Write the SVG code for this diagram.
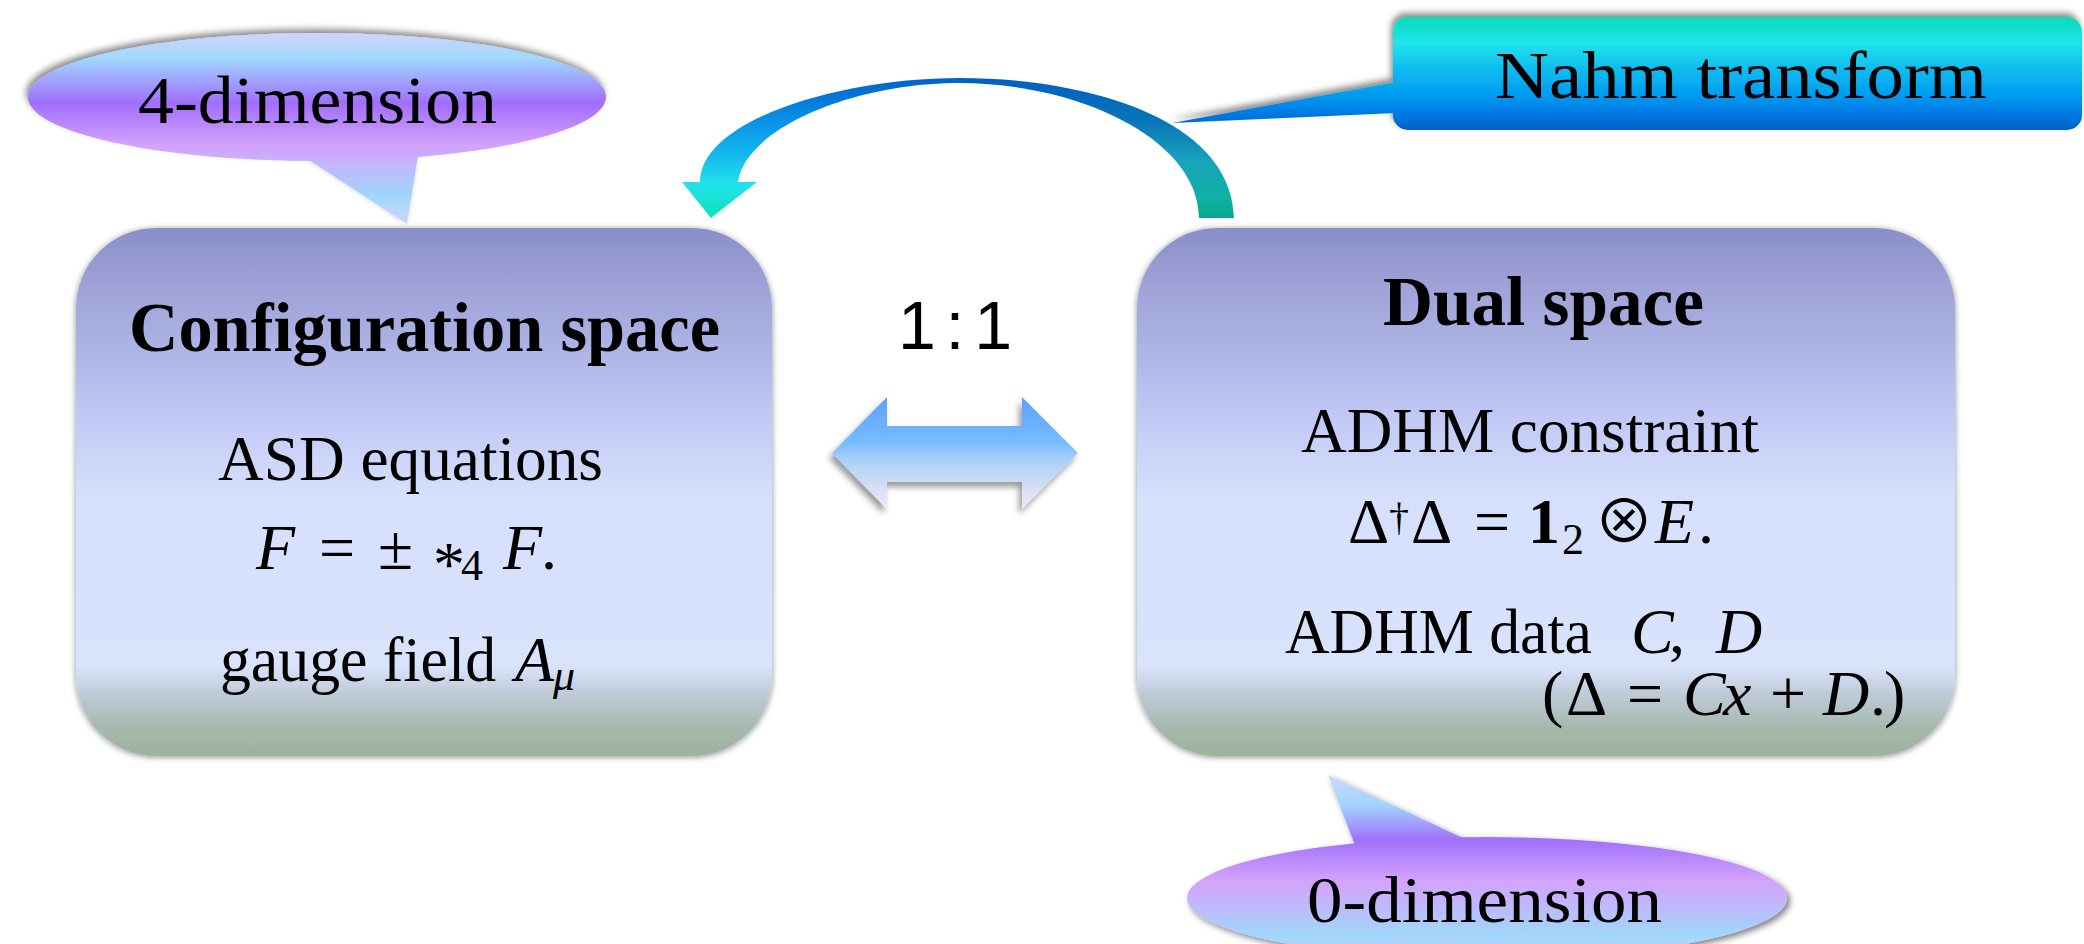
<svg xmlns="http://www.w3.org/2000/svg" width="2084" height="944" viewBox="0 0 2084 944">
  <defs>
    <style>
      .t { font-family: "Liberation Serif", "Times New Roman", "DejaVu Serif", serif; fill: #000; }
      .b { font-weight: bold; }
      .i { font-style: italic; }
      .m { font-size: 64px; }
      .sub { font-size: 44px; }
      .op { font-family: "Noto Sans CJK JP", "Liberation Serif", serif; font-size: 60px; fill: #000; }
      .ratio { font-family: "Liberation Sans", Arial, sans-serif; font-size: 68px; fill: #000; }
    </style>
    <!-- panel fill: lavender top, pale blue body, grey-green foot -->
    <linearGradient id="gBox" x1="0" y1="0" x2="0" y2="1">
      <stop offset="0" stop-color="#8a8ec9"/>
      <stop offset=".115" stop-color="#9fa3d8"/>
      <stop offset=".246" stop-color="#b0b6e8"/>
      <stop offset=".374" stop-color="#c4cbf6"/>
      <stop offset=".504" stop-color="#d6dffc"/>
      <stop offset=".83" stop-color="#dae3fc"/>
      <stop offset=".883" stop-color="#bfcad8"/>
      <stop offset=".947" stop-color="#a6b8ae"/>
      <stop offset="1" stop-color="#9db39a"/>
    </linearGradient>
    <linearGradient id="g4d" gradientUnits="userSpaceOnUse" x1="0" y1="32" x2="0" y2="224">
      <stop offset="0" stop-color="#d2d4fe"/>
      <stop offset=".135" stop-color="#a0d8fc"/>
      <stop offset=".37" stop-color="#a06efc"/>
      <stop offset=".59" stop-color="#d4a2fc"/>
      <stop offset=".69" stop-color="#c2b6fc"/>
      <stop offset=".85" stop-color="#a0d6fc"/>
      <stop offset="1" stop-color="#d0d6fc"/>
    </linearGradient>
    <linearGradient id="g0d" gradientUnits="userSpaceOnUse" x1="0" y1="775" x2="0" y2="959">
      <stop offset="0" stop-color="#d0d6fc"/>
      <stop offset=".163" stop-color="#a0d6fc"/>
      <stop offset=".353" stop-color="#a070fc"/>
      <stop offset=".57" stop-color="#d4a2fc"/>
      <stop offset=".71" stop-color="#c0b8fc"/>
      <stop offset=".86" stop-color="#a0d6fc"/>
      <stop offset="1" stop-color="#c8d4fc"/>
    </linearGradient>
    <linearGradient id="gNahm" gradientUnits="userSpaceOnUse" x1="0" y1="17" x2="0" y2="130">
      <stop offset="0" stop-color="#06dcb8"/>
      <stop offset=".23" stop-color="#22e4ea"/>
      <stop offset=".44" stop-color="#10c0f0"/>
      <stop offset=".71" stop-color="#0098f0"/>
      <stop offset=".82" stop-color="#0080e8"/>
      <stop offset="1" stop-color="#0060c8"/>
    </linearGradient>
    <linearGradient id="gDbl" gradientUnits="userSpaceOnUse" x1="0" y1="397" x2="0" y2="509">
      <stop offset="0" stop-color="#5aa0ff"/>
      <stop offset=".41" stop-color="#78bcff"/>
      <stop offset=".56" stop-color="#a8d0f8"/>
      <stop offset=".77" stop-color="#d0dcf4"/>
      <stop offset="1" stop-color="#f4e8fc"/>
    </linearGradient>
    <linearGradient id="gArcL" gradientUnits="userSpaceOnUse" x1="0" y1="78" x2="0" y2="218">
      <stop offset="0" stop-color="#0062cc"/>
      <stop offset=".3" stop-color="#0890e8"/>
      <stop offset=".55" stop-color="#14b8ec"/>
      <stop offset=".76" stop-color="#22e2ea"/>
      <stop offset="1" stop-color="#0ee0b8"/>
    </linearGradient>
    <linearGradient id="gArcR" gradientUnits="userSpaceOnUse" x1="0" y1="78" x2="0" y2="218">
      <stop offset="0" stop-color="#0060c0"/>
      <stop offset=".3" stop-color="#0874b8"/>
      <stop offset=".6" stop-color="#18a4bc"/>
      <stop offset=".85" stop-color="#10b0a4"/>
      <stop offset="1" stop-color="#08a88e"/>
    </linearGradient>
    <filter id="shBox" x="-5%" y="-5%" width="110%" height="110%">
      <feDropShadow dx="0" dy="1" stdDeviation="3" flood-color="#000" flood-opacity=".45"/>
    </filter>
    <filter id="shUp" x="-5%" y="-20%" width="110%" height="140%">
      <feDropShadow dx="-2" dy="-4" stdDeviation="3" flood-color="#000" flood-opacity=".45"/>
    </filter>
    <filter id="shDown" x="-5%" y="-20%" width="110%" height="140%">
      <feDropShadow dx="3" dy="3" stdDeviation="3" flood-color="#000" flood-opacity=".5"/>
    </filter>
    <filter id="shArrow" x="-10%" y="-20%" width="120%" height="140%">
      <feDropShadow dx="-3" dy="5" stdDeviation="3" flood-color="#000" flood-opacity=".4"/>
    </filter>
  </defs>

  <rect width="2084" height="944" fill="#fff"/>

  <!-- connectors -->
  <g id="connectors">
    <!-- Nahm transform: curved arrow from the dual space back to the configuration space -->
    <path id="nahm-arc-left" fill="url(#gArcL)" d="M960 78 C840 78 700 120 700 182 L682 182 L711 218 L757 182 L738 182 C745 130 850 83 960 83 Z"/>
    <path id="nahm-arc-right" fill="url(#gArcR)" d="M959 78 C1090 78 1232 120 1234 218 L1199 218 C1199 140 1080 83 959 83 Z"/>
    <!-- one-to-one correspondence -->
    <path id="one-to-one" fill="url(#gDbl)" filter="url(#shArrow)" d="M832 453 L887 397 L887 426 L1022 426 L1022 397 L1078 453 L1022 509 L1022 482 L887 482 L887 509 Z"/>
    <text class="ratio" x="898" y="349" textLength="114">1:1</text>
  </g>

  <!-- left panel -->
  <g id="config-space">
    <rect x="76" y="228" width="696" height="528" rx="80" fill="url(#gBox)" filter="url(#shBox)"/>
    <text class="t b" x="129" y="351" font-size="70" textLength="591" lengthAdjust="spacingAndGlyphs">Configuration space</text>
    <text class="t m" x="218" y="480" textLength="385" lengthAdjust="spacingAndGlyphs">ASD equations</text>
    <text class="t m i" x="256" y="569">F</text>
    <text class="t m" x="319" y="569">=</text>
    <text class="t m" x="378" y="569">±</text>
    <text class="t m" x="433" y="586">*</text>
    <text class="t sub" x="461" y="580">4</text>
    <text class="t m i" x="503" y="569">F</text>
    <text class="t m" x="541" y="569">.</text>
    <text class="t m" x="220" y="681" textLength="276" lengthAdjust="spacingAndGlyphs">gauge field</text>
    <text class="t m i" x="515" y="681">A</text>
    <text class="t sub i" x="553" y="690">μ</text>
  </g>

  <!-- right panel -->
  <g id="dual-space">
    <rect x="1137" y="228" width="818" height="528" rx="80" fill="url(#gBox)" filter="url(#shBox)"/>
    <text class="t b" x="1383" y="325" font-size="70" textLength="321" lengthAdjust="spacingAndGlyphs">Dual space</text>
    <text class="t m" x="1301" y="452" textLength="458" lengthAdjust="spacingAndGlyphs">ADHM constraint</text>
    <text class="t m" x="1348" y="543">Δ</text>
    <text class="t" x="1389" y="530" font-size="40">†</text>
    <text class="t m" x="1411" y="543">Δ</text>
    <text class="t m" x="1474" y="543">=</text>
    <text class="t m b" x="1528" y="543">1</text>
    <text class="t sub" x="1562" y="554">2</text>
    <text class="op" x="1594" y="543">⊗</text>
    <text class="t m i" x="1655" y="543">E</text>
    <text class="t m" x="1698" y="543">.</text>
    <text class="t m" x="1285" y="653" textLength="307" lengthAdjust="spacingAndGlyphs">ADHM data</text>
    <text class="t m i" x="1631" y="653">C</text>
    <text class="t m" x="1669" y="653">,</text>
    <text class="t m i" x="1716" y="653">D</text>
    <text class="t m" x="1542" y="715">(</text>
    <text class="t m" x="1566" y="715">Δ</text>
    <text class="t m" x="1627" y="715">=</text>
    <text class="t m i" x="1683" y="715">C</text>
    <text class="t m i" x="1723" y="715">x</text>
    <text class="t m" x="1770" y="715">+</text>
    <text class="t m i" x="1823" y="715">D</text>
    <text class="t m" x="1870" y="715">.</text>
    <text class="t m" x="1884" y="715">)</text>
  </g>

  <!-- callout: 4-dimension -->
  <g id="callout-4d">
    <g filter="url(#shUp)">
      <ellipse cx="317" cy="97" rx="289" ry="64" fill="url(#g4d)"/>
      <polygon points="306,158 407,224 418,155" fill="url(#g4d)"/>
    </g>
    <text class="t" x="138" y="123" font-size="68" textLength="359" lengthAdjust="spacingAndGlyphs">4-dimension</text>
  </g>

  <!-- callout: 0-dimension -->
  <g id="callout-0d">
    <g filter="url(#shDown)">
      <ellipse cx="1487" cy="898" rx="300" ry="61" fill="url(#g0d)"/>
      <polygon points="1355,845 1328,775 1465,839" fill="url(#g0d)"/>
    </g>
    <text class="t" x="1307" y="922" font-size="66" textLength="355" lengthAdjust="spacingAndGlyphs">0-dimension</text>
  </g>

  <!-- callout: Nahm transform -->
  <g id="callout-nahm">
    <g filter="url(#shUp)">
      <rect x="1393" y="17" width="689" height="113" rx="15" fill="url(#gNahm)"/>
      <polygon points="1396,82 1172,123 1396,113" fill="url(#gNahm)"/>
    </g>
    <text class="t" x="1495" y="98" font-size="68" textLength="492" lengthAdjust="spacingAndGlyphs">Nahm transform</text>
  </g>
</svg>
